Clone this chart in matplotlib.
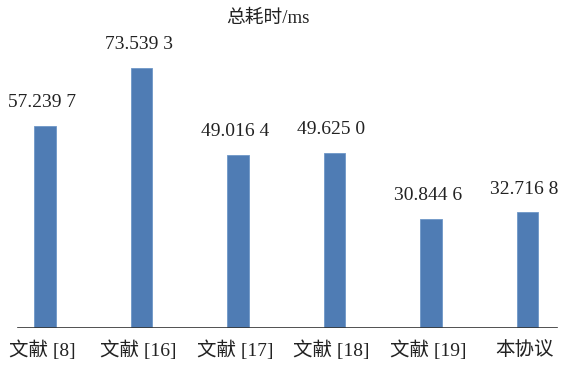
import matplotlib
matplotlib.use("Agg")
import matplotlib.pyplot as plt

plt.rcParams['font.family'] = ['Liberation Serif', 'Noto Sans CJK SC']

# 数据
categories = ["文献 [8]", "文献 [16]", "文献 [17]", "文献 [18]", "文献 [19]", "本协议"]
values = [57.2397, 73.5393, 49.0164, 49.6250, 30.8446, 32.7168]
labels = ["57.239 7", "73.539 3", "49.016 4", "49.625 0", "30.844 6", "32.716 8"]
title = "总耗时/ms"

W, H = 561, 365
fig = plt.figure(figsize=(W / 100, H / 100), dpi=100)
ax = fig.add_axes([0, 37 / H, 1, 328 / H])

x = list(range(len(categories)))
ax.bar(x, values, width=0.225, color="#4F7CB4", edgecolor="#6F97C8", linewidth=0.6, zorder=2)

ax.set_xlim(-0.466, 5.348)
ax.set_ylim(0, 92.8)

for xi, v, lab in zip(x, values, labels):
    ax.text(xi - 0.03, v + 6.6, lab, ha="center", va="center", fontsize=14, color="#222222")

for xi, c in zip(x, categories):
    ax.text(xi - 0.03, -6.3, c, ha="center", va="center", fontsize=14, color="#222222", clip_on=False)

ax.axhline(0, xmin=18 / W, xmax=557 / W, color="#333333", linewidth=1.2, zorder=3)

for s in ax.spines.values():
    s.set_visible(False)
ax.set_xticks([])
ax.set_yticks([])

fig.text(268 / W, 1 - 18 / H, title, ha="center", va="center", fontsize=13.5, color="#222222")

fig.savefig("out.png", dpi=100)
plt.close(fig)
